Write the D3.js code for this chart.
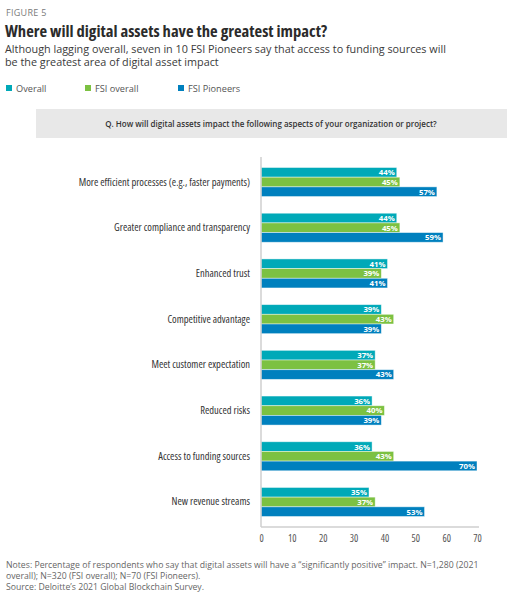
<!DOCTYPE html>
<html><head><meta charset="utf-8">
<script src="https://cdn.jsdelivr.net/npm/d3@7"></script>
<style>body{margin:0;background:#fff}svg{display:block}
.cond{font-family:'Open Sans',sans-serif;font-stretch:75%;}
</style>
</head><body>
<svg id="c" width="513" height="600"></svg>
<script>
const categories = [
  "More efficient processes (e.g., faster payments)",
  "Greater compliance and transparency",
  "Enhanced trust",
  "Competitive advantage",
  "Meet customer expectation",
  "Reduced risks",
  "Access to funding sources",
  "New revenue streams"
];
const seriesNames = ["Overall", "FSI overall", "FSI Pioneers"];
const overall     = [44, 44, 41, 39, 37, 36, 36, 35];
const fsiOverall  = [45, 45, 39, 43, 37, 40, 43, 37];
const fsiPioneers = [57, 59, 41, 39, 43, 39, 70, 53];
const xTicks = [0, 10, 20, 30, 40, 50, 60, 70];
const colors = ["#00A9B8", "#7CC142", "#0080BE"];

const svg = d3.select("#c");
const body = "'Open Sans','Noto Sans',sans-serif";

svg.append("text").attr("x",6).attr("y",16).attr("font-family",body).attr("font-size",9)
  .attr("fill","#7a7a7a").attr("letter-spacing",0.3).text("FIGURE 5");
svg.append("text").attr("class","cond").attr("x",5).attr("y",37).attr("font-weight","bold")
  .attr("font-size",16.6).attr("fill","#2b2b2b").text("Where will digital assets have the greatest impact?");
svg.append("text").attr("x",5).attr("y",52.5).attr("font-family",body).attr("font-size",10.8)
  .attr("fill","#3a3a3a").text("Although lagging overall, seven in 10 FSI Pioneers say that access to funding sources will");
svg.append("text").attr("x",5).attr("y",66).attr("font-family",body).attr("font-size",10.8)
  .attr("fill","#3a3a3a").text("be the greatest area of digital asset impact");

// legend
const legX = [6, 85, 178];
seriesNames.forEach((n,i)=>{
  svg.append("rect").attr("x",legX[i]).attr("y",85).attr("width",6).attr("height",6).attr("fill",colors[i]);
  svg.append("text").attr("x",legX[i]+10).attr("y",91.5).attr("font-family",body).attr("font-size",9.2)
    .attr("fill","#555").text(n);
});

// question box
svg.append("rect").attr("x",36).attr("y",109).attr("width",471).attr("height",29).attr("fill","#e8e8e8");
svg.append("text").attr("x",271).attr("y",127).attr("text-anchor","middle").attr("font-family",body)
  .attr("font-weight",600).attr("font-size",8).attr("fill","#333")
  .text("Q. How will digital assets impact the following aspects of your organization or project?");

// chart
const x = d3.scaleLinear().domain([0,70]).range([261,477]);
const y0 = d3.scaleBand().domain(categories).range([157,527]).paddingInner(0.365).paddingOuter(0.23);
const y1 = d3.scaleBand().domain(seriesNames).range([0,y0.bandwidth()]);
const data = categories.map((c,i)=>({cat:c, vals:[overall[i],fsiOverall[i],fsiPioneers[i]]}));

const g = svg.append("g");
const grp = g.selectAll("g.grp").data(data).join("g").attr("transform",d=>`translate(0,${y0(d.cat)})`);
grp.selectAll("rect").data(d=>d.vals.map((v,i)=>({v,i}))).join("rect")
  .attr("x",x(0)).attr("y",d=>y1(seriesNames[d.i])).attr("width",d=>x(d.v)-x(0))
  .attr("height",y1.bandwidth()).attr("fill",d=>colors[d.i])
  .attr("stroke","rgba(255,255,255,0.55)").attr("stroke-width",0.8);
grp.selectAll("text.v").data(d=>d.vals.map((v,i)=>({v,i}))).join("text").attr("class","v")
  .attr("x",d=>x(d.v)-2).attr("y",d=>y1(seriesNames[d.i])+y1.bandwidth()/2+2.9)
  .attr("text-anchor","end").attr("font-family",body).attr("font-weight","bold").attr("font-size",7.8)
  .attr("fill","#fff").text(d=>d.v+"%");
grp.append("text").attr("class","cond").attr("x",250).attr("y",y0.bandwidth()/2+3.5).attr("text-anchor","end")
  .attr("font-weight",400).attr("font-size",10.5).attr("fill","#333").text(d=>d.cat);

// axes
svg.append("line").attr("x1",x(0)).attr("x2",x(0)).attr("y1",157).attr("y2",527)
  .attr("stroke","#cfcfcf").attr("stroke-width",1.5);
const xa = svg.append("g").attr("transform","translate(0,527)")
  .call(d3.axisBottom(x).tickValues(xTicks).tickSize(0).tickPadding(8).tickFormat(d3.format("d")));
xa.attr("font-family",null);
xa.select(".domain").attr("stroke","#cfcfcf").attr("stroke-width",1.5).attr("d",`M${x(0)},0H${x(70)+2}`);
xa.selectAll("text").attr("class","cond").attr("font-weight",400).attr("font-size",10).attr("fill","#555");

// notes
const notes = ["Notes: Percentage of respondents who say that digital assets will have a \u201csignificantly positive\u201d impact. N=1,280 (2021",
  "overall); N=320 (FSI overall); N=70 (FSI Pioneers).",
  "Source: Deloitte\u2019s 2021 Global Blockchain Survey."];
notes.forEach((t,i)=>svg.append("text").attr("x",6).attr("y",568+i*11).attr("font-family",body)
  .attr("font-size",8.7).attr("fill","#666").text(t));
</script>
</body></html>
